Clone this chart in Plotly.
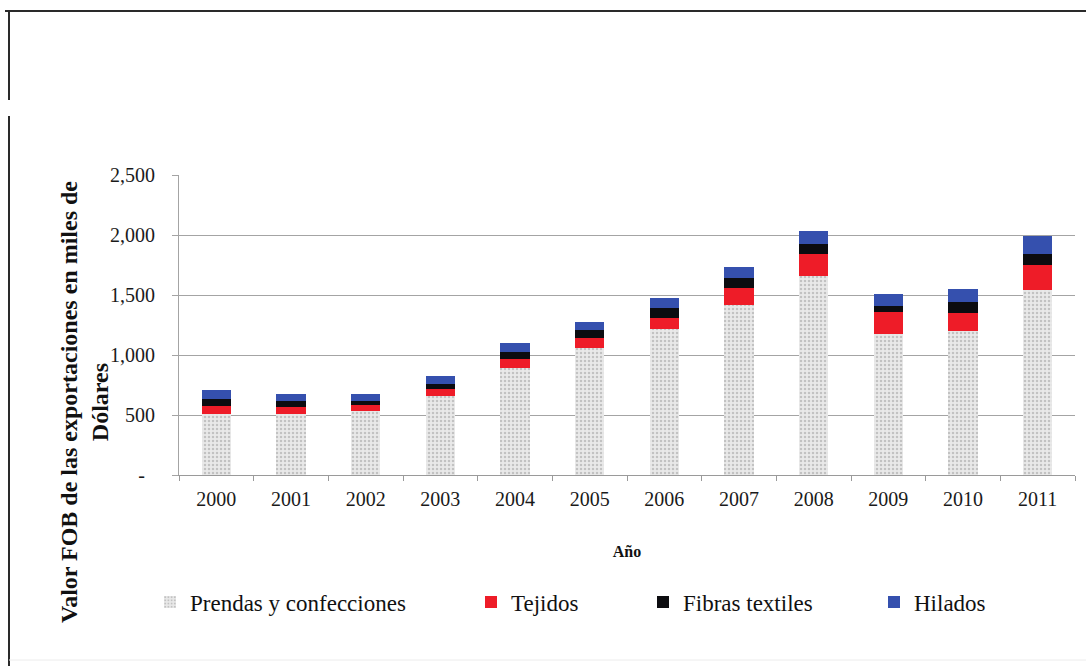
import plotly.graph_objects as go

# Exportaciones textiles por año (miles de dólares FOB)
years = ["2000", "2001", "2002", "2003", "2004", "2005",
         "2006", "2007", "2008", "2009", "2010", "2011"]
prendas = [505, 505, 530, 655, 889, 1060, 1215, 1415, 1655, 1175, 1200, 1540]
tejidos = [70, 64, 50, 60, 78, 78, 97, 140, 190, 185, 150, 208]
fibras = [60, 48, 36, 47, 55, 70, 80, 88, 78, 47, 90, 97]
hilados = [70, 55, 61, 61, 75, 70, 84, 92, 108, 100, 112, 145]

y_ticks = [0, 500, 1000, 1500, 2000, 2500]
y_ticktext = ["-\u00a0\u00a0", "500", "1,000", "1,500", "2,000", "2,500"]

SERIF = "Liberation Serif"

# plot area in pixels (used to convert page positions to paper coords)
W, H = 1086, 666
L, R, T, B = 179, 11, 175, 191
PW, PH = W - L - R, H - T - B


def px_x(px):
    return (px - L) / PW


def px_y(py):
    return (H - B - py) / PH


fig = go.Figure()

fig.add_trace(go.Bar(
    x=years, y=prendas, name="Prendas y confecciones", legend="legend",
    showlegend=True,
    marker=dict(color="#e6e6e6", line=dict(width=0),
                pattern=dict(shape=".", fgcolor="#9a9a9a", bgcolor="#e9e9e9",
                             size=4, solidity=0.3)),
))
fig.add_trace(go.Bar(
    x=years, y=tejidos, name="Tejidos", legend="legend2", showlegend=True,
    marker=dict(color="#ee1c28", line=dict(width=0)),
))
fig.add_trace(go.Bar(
    x=years, y=fibras, name="Fibras textiles", legend="legend3", showlegend=True,
    marker=dict(color="#0c0c10", line=dict(width=0)),
))
fig.add_trace(go.Bar(
    x=years, y=hilados, name="Hilados", legend="legend4", showlegend=True,
    marker=dict(color="#3550ae", line=dict(width=0)),
))

legend_common = dict(
    orientation="h", yanchor="middle", xanchor="left",
    font=dict(family=SERIF, size=23, color="#111"),
    bgcolor="rgba(0,0,0,0)", borderwidth=0, visible=True,
)
legend_y = px_y(602)

# page frame
frame = dict(type="line", xref="paper", yref="paper",
             line=dict(color="#2a2a2a", width=2))
shapes = [
    dict(frame, x0=px_x(5), x1=px_x(1086), y0=px_y(11), y1=px_y(11)),
    dict(frame, x0=px_x(9), x1=px_x(9), y0=px_y(11), y1=px_y(100)),
    dict(frame, x0=px_x(9), x1=px_x(9), y0=px_y(116), y1=px_y(666)),
    dict(type="line", xref="paper", yref="paper",
         x0=px_x(9), x1=px_x(1086), y0=px_y(660), y1=px_y(660),
         line=dict(color="#ececec", width=1)),
]

fig.update_layout(
    width=W, height=H,
    margin=dict(l=L, r=R, t=T, b=B, autoexpand=False),
    paper_bgcolor="white", plot_bgcolor="white",
    barmode="stack", bargap=0.61, showlegend=True,
    font=dict(family=SERIF, color="#1a1a1a"),
    legend=dict(legend_common, x=px_x(150), y=legend_y),
    legend2=dict(legend_common, x=px_x(471), y=legend_y),
    legend3=dict(legend_common, x=px_x(643), y=legend_y),
    legend4=dict(legend_common, x=px_x(874), y=legend_y),
    xaxis=dict(
        type="category", showline=True, linecolor="#9a9a9a", linewidth=1,
        ticks="outside", tickson="boundaries", ticklen=5, tickcolor="#9a9a9a",
        ticklabelstandoff=6,
        tickfont=dict(family=SERIF, size=20, color="#1a1a1a"),
        title=dict(text="Año", standoff=36,
                   font=dict(family=SERIF, size=16, color="#111", weight="bold")),
    ),
    yaxis=dict(
        range=[0, 2500], tickvals=y_ticks, ticktext=y_ticktext,
        showgrid=True, gridcolor="#a4a4a4", gridwidth=1,
        showline=True, linecolor="#a4a4a4", linewidth=1, zeroline=False,
        ticks="outside", ticklen=6, tickcolor="#a4a4a4", ticklabelstandoff=13,
        tickfont=dict(family=SERIF, size=20, color="#1a1a1a"),
    ),
    annotations=[dict(
        text="Valor FOB de las exportaciones en miles de<br>Dólares",
        xref="paper", yref="paper", x=px_x(84), y=px_y(402),
        xanchor="center", yanchor="middle", textangle=-90, showarrow=False,
        font=dict(family=SERIF, size=24, color="#111", weight="bold"),
    )],
    shapes=shapes,
)

fig.write_html("out.html")
